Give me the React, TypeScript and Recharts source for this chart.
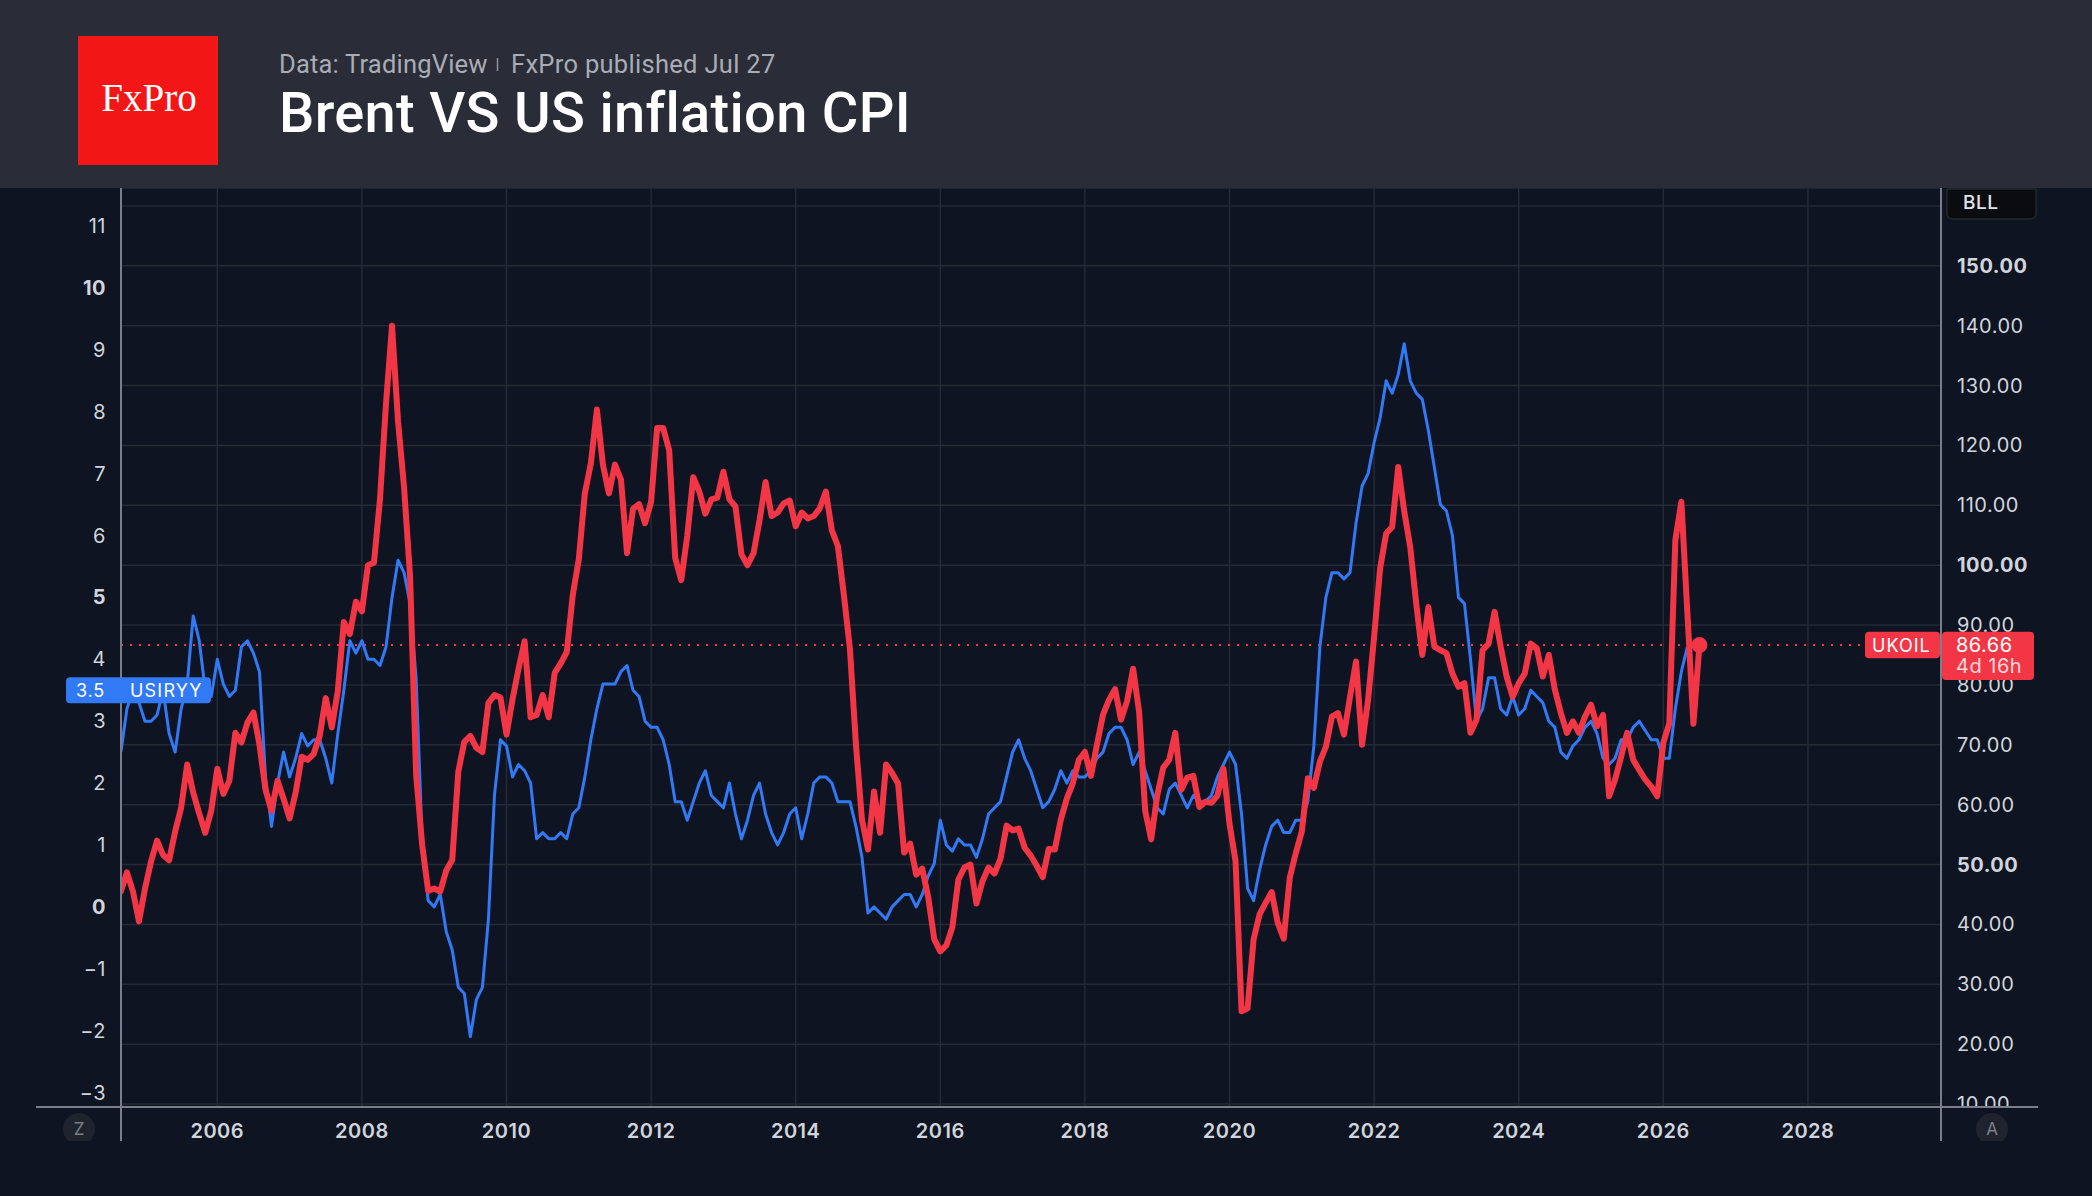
import { CartesianGrid, Line, LineChart, ReferenceLine, XAxis, YAxis } from 'recharts';

// monthly closes, first point is Sep 2004
const START_YEAR = 2004;
const START_MONTH = 8;

const ukoil = [
  45.5, 48.7, 45.5, 40.5,
  46, 50.5, 54, 51.6, 50.7, 55.5, 59.5, 66.7, 62, 58.5, 55.3, 59,
  66, 61.8, 64, 72, 70.4, 73.7, 75.4, 70, 62.5, 59, 64, 61,
  57.7, 62, 68, 67.5, 68.5, 71.5, 77.8, 72.9, 79, 90.5, 88.5, 93.9,
  92.3, 100, 100.4, 111, 127, 140, 124, 113, 98, 65, 53.3, 45.6,
  46, 45.5, 49, 50.8, 65.5, 70.5, 71.5, 69.5, 68.8, 77, 78.3, 77.9,
  71.7, 77.6, 82.7, 87.3, 74.6, 75, 78.3, 74.6, 82, 83.6, 85.5, 95,
  101, 112, 117, 126, 116.8, 112, 116.8, 114.3, 102, 109.4, 110.2, 107,
  110.6, 122.9, 122.9, 119.2, 101.2, 97.5, 104.9, 114.7, 112.3, 108.6, 111, 111.3,
  115.6, 111, 109.8, 101.8, 100, 102, 107.5, 113.9, 108.2, 108.8, 110.3, 110.8,
  106.5, 108.8, 107.8, 108.2, 109.5, 112.3, 105.8, 103.2, 95, 86, 70, 57.5,
  52.5, 62.2, 55.3, 66.7, 65.3, 63.5, 52, 53.5, 48.3, 49.3, 44.5, 37.5,
  35.5, 36.5, 39.5, 47.5, 49.5, 50, 43.5, 47.2, 49.5, 48.5, 51, 56.5,
  55.7, 56, 52.8, 51.5, 49.8, 47.9, 52.6, 52.5, 57.5, 61, 63.6, 67.5,
  68.8, 64.8, 70, 75, 77.5, 79.3, 74.2, 77.3, 82.7, 75.5, 59, 54.2,
  61.5, 66.2, 67.5, 72, 62.5, 64.5, 64.8, 59.6, 60.5, 60.3, 61.5, 66,
  56.8, 50.6, 25.5, 26, 37.5, 41.7, 43.6, 45.4, 40.3, 37.6, 47.8, 51.9,
  55.5, 64.4, 62.8, 67.2, 69.7, 74.7, 75.3, 71.7, 78, 83.9, 70, 77.5,
  88, 99.5, 105.3, 106.4, 116.4, 109, 103, 93.5, 85, 93, 86.4, 85.8,
  85.3, 81.9, 79.7, 80.3, 72, 74.2, 85.8, 86.9, 92.2, 86.4, 81.4, 78,
  80.3, 81.9, 86.9, 86.1, 81.4, 85, 79.2, 75.3, 72, 73.9, 72, 74.7,
  76.7, 73.1, 75, 61.4, 64.2, 68, 72, 67.5, 65.8, 64.2, 63, 61.4,
  70.3, 73.6, 104.2, 110.6, 92, 73.5, 86.66,
];

const usiryy = [
  2.5, 3.2, 3.5, 3.3,
  3.0, 3.0, 3.1, 3.5, 2.8, 2.5, 3.2, 3.6, 4.7, 4.3, 3.5, 3.4,
  4.0, 3.6, 3.4, 3.5, 4.2, 4.3, 4.1, 3.8, 2.1, 1.3, 2.0, 2.5,
  2.1, 2.4, 2.8, 2.6, 2.7, 2.7, 2.4, 2.0, 2.8, 3.5, 4.3, 4.1,
  4.3, 4.0, 4.0, 3.9, 4.2, 5.0, 5.6, 5.4, 4.9, 3.7, 1.1, 0.1,
  0.0, 0.2, -0.4, -0.7, -1.3, -1.4, -2.1, -1.5, -1.3, -0.2, 1.8, 2.7,
  2.6, 2.1, 2.3, 2.2, 2.0, 1.1, 1.2, 1.1, 1.1, 1.2, 1.1, 1.5,
  1.6, 2.1, 2.7, 3.2, 3.6, 3.6, 3.6, 3.8, 3.9, 3.5, 3.4, 3.0,
  2.9, 2.9, 2.7, 2.3, 1.7, 1.7, 1.4, 1.7, 2.0, 2.2, 1.8, 1.7,
  1.6, 2.0, 1.5, 1.1, 1.4, 1.8, 2.0, 1.5, 1.2, 1.0, 1.2, 1.5,
  1.6, 1.1, 1.5, 2.0, 2.1, 2.1, 2.0, 1.7, 1.7, 1.7, 1.3, 0.8,
  -0.1, 0.0, -0.1, -0.2, 0.0, 0.1, 0.2, 0.2, 0.0, 0.2, 0.5, 0.7,
  1.4, 1.0, 0.9, 1.1, 1.0, 1.0, 0.8, 1.1, 1.5, 1.6, 1.7, 2.1,
  2.5, 2.7, 2.4, 2.2, 1.9, 1.6, 1.7, 1.9, 2.2, 2.0, 2.2, 2.1,
  2.1, 2.2, 2.4, 2.5, 2.8, 2.9, 2.9, 2.7, 2.3, 2.5, 2.2, 1.9,
  1.6, 1.5, 1.9, 2.0, 1.8, 1.6, 1.8, 1.7, 1.7, 1.8, 2.1, 2.3,
  2.5, 2.3, 1.5, 0.3, 0.1, 0.6, 1.0, 1.3, 1.4, 1.2, 1.2, 1.4,
  1.4, 1.7, 2.6, 4.2, 5.0, 5.4, 5.4, 5.3, 5.4, 6.2, 6.8, 7.0,
  7.5, 7.9, 8.5, 8.3, 8.6, 9.1, 8.5, 8.3, 8.2, 7.7, 7.1, 6.5,
  6.4, 6.0, 5.0, 4.9, 4.0, 3.0, 3.2, 3.7, 3.7, 3.2, 3.1, 3.4,
  3.1, 3.2, 3.5, 3.4, 3.3, 3.0, 2.9, 2.5, 2.4, 2.6, 2.7, 2.9,
  3.0, 2.8, 2.4, 2.3, 2.4, 2.7, 2.7, 2.9, 3.0, 2.85, 2.7, 2.7,
  2.4, 2.4, 3.2, 3.8, 4.2,
];

const yearTicks = [2006, 2008, 2010, 2012, 2014, 2016, 2018, 2020, 2022, 2024, 2026, 2028];
const cpiTicks = [-3, -2, -1, 0, 1, 2, 3, 4, 5, 6, 7, 8, 9, 10, 11];
const oilTicks = [10, 20, 30, 40, 50, 60, 70, 80, 90, 100, 110, 120, 130, 140, 150, 160];
const boldCpi = [0, 5, 10];
const boldOil = [50, 100, 150];

const lastOil = 86.66;
const lastCpi = 3.5;
const countdown = '4d 16h';

const W = 2092;
const H = 1196;
const PLOT = { left: 121, right: 1941, top: 188, bottom: 1107 };
const X_DOMAIN = [2004.668, 2029.841];
const CPI_DOMAIN = [-3.234, 11.615];
const OIL_DOMAIN = [9.5, 163.0];

const BG = '#0e1421';
const RED = '#f23645';
const BLUE = '#3179f5';
const TEXT = '#d1d4dc';
const AXIS = '#7b7e88';

const data = ukoil.map((oil, i) => ({
  t: START_YEAR + (START_MONTH + i) / 12,
  oil,
  cpi: usiryy[i],
}));

const cpiY = (v: number) =>
  PLOT.top + ((CPI_DOMAIN[1] - v) / (CPI_DOMAIN[1] - CPI_DOMAIN[0])) * (PLOT.bottom - PLOT.top);
const oilY = (v: number) =>
  PLOT.top + ((OIL_DOMAIN[1] - v) / (OIL_DOMAIN[1] - OIL_DOMAIN[0])) * (PLOT.bottom - PLOT.top);

const fmtCpi = (v: number) => (v < 0 ? `\u2212${-v}` : String(v));

function LeftTick({ x, y, payload }: any) {
  const v = payload.value;
  return (
    <text x={x} y={y} dy={7} textAnchor="end" fill={TEXT} fontSize={20} fontFamily="Inter"
      fontWeight={boldCpi.includes(v) ? 700 : 400} letterSpacing={0.5}>
      {fmtCpi(v)}
    </text>
  );
}

function RightTick({ x, y, payload }: any) {
  const v = payload.value;
  if (v === 160) return <g />;
  return (
    <text x={x} y={y} dy={7} textAnchor="start" fill={TEXT} fontSize={20} fontFamily="Inter"
      fontWeight={boldOil.includes(v) ? 700 : 400} letterSpacing={0.5}>
      {v.toFixed(2)}
    </text>
  );
}

function YearTick({ x, y, payload }: any) {
  return (
    <text x={x} y={y} dy={16} textAnchor="middle" fill={TEXT} fontSize={20} fontFamily="Inter"
      fontWeight={600} letterSpacing={0.5}>
      {payload.value}
    </text>
  );
}

const lastIdx = data.length - 1;

function EndDot(p: any) {
  if (p.index !== lastIdx) return <g key={`d${p.index}`} />;
  return <circle key="end" cx={p.cx} cy={p.cy} r={8} fill={RED} />;
}

export default function App() {
  const oilTagY = oilY(lastOil);
  const cpiTagY = cpiY(lastCpi);
  return (
    <div style={{ position: 'absolute', left: 0, top: 0, width: W, height: H, background: BG, overflow: 'hidden' }}>
      <div style={{ position: 'absolute', left: 0, top: 0 }}>
        <LineChart width={W} height={H} data={data} margin={{ top: 188, left: 41, right: 51, bottom: 49 }}>
          <CartesianGrid yAxisId="right" stroke="#252a34" strokeWidth={1.5} />
          <XAxis
            type="number"
            dataKey="t"
            domain={X_DOMAIN}
            ticks={yearTicks}
            allowDataOverflow
            height={40}
            tickLine={false}
            axisLine={false}
            tickMargin={9}
            tick={<YearTick />}
          />
          <YAxis
            yAxisId="left"
            orientation="left"
            domain={CPI_DOMAIN}
            ticks={cpiTicks}
            allowDataOverflow
            width={80}
            tickLine={false}
            axisLine={false}
            tickMargin={9}
            tick={<LeftTick />}
          />
          <YAxis
            yAxisId="right"
            orientation="right"
            domain={OIL_DOMAIN}
            ticks={oilTicks}
            allowDataOverflow
            width={100}
            tickLine={false}
            axisLine={false}
            tickMargin={10}
            tick={<RightTick />}
          />
          <ReferenceLine yAxisId="right" y={lastOil} stroke={RED} strokeWidth={2} strokeDasharray="2 7" />
          <Line
            yAxisId="left"
            dataKey="cpi"
            stroke={BLUE}
            strokeWidth={3}
            strokeLinejoin="round"
            dot={false}
            isAnimationActive={false}
          />
          <Line
            yAxisId="right"
            dataKey="oil"
            stroke={RED}
            strokeWidth={6}
            strokeLinejoin="round"
            strokeLinecap="round"
            dot={EndDot}
            activeDot={false}
            isAnimationActive={false}
          />
        </LineChart>
      </div>

      <svg width={W} height={H} style={{ position: 'absolute', left: 0, top: 0, pointerEvents: 'none' }}>
        <defs>
          <clipPath id="pane">
            <rect x={0} y={1108} width={W} height={33} />
          </clipPath>
        </defs>

        {/* header */}
        <rect x={0} y={0} width={W} height={188} fill="#2a2d38" />
        <rect x={78} y={36} width={140} height={129} fill="#f31616" />
        <text x={149} y={111} textAnchor="middle" fill="#fff" fontSize={39} fontFamily="'Liberation Serif', serif">
          FxPro
        </text>
        <text x={279} y={73} fill="#a9acb5" fontSize={25.5} fontFamily="Roboto" letterSpacing={0.2}>
          Data: TradingView
        </text>
        <line x1={497.5} x2={497.5} y1={58} y2={71} stroke="#8d9099" strokeWidth={1.5} />
        <text x={511} y={73} fill="#a9acb5" fontSize={25.5} fontFamily="Roboto" letterSpacing={0.3}>
          FxPro published Jul 27
        </text>
        <text x={279} y={132} fill="#ffffff" fontSize={56} fontWeight={500} fontFamily="Roboto" letterSpacing={0.3}>
          Brent VS US inflation CPI
        </text>

        {/* cover the part of the lowest price label that runs into the time scale */}
        <rect x={PLOT.right + 2} y={1108} width={W - PLOT.right} height={40} fill={BG} />

        {/* scale borders */}
        <line x1={PLOT.left} x2={PLOT.left} y1={188} y2={1141} stroke={AXIS} strokeWidth={2} />
        <line x1={PLOT.right} x2={PLOT.right} y1={188} y2={1141} stroke={AXIS} strokeWidth={2} />
        <line x1={36} x2={2038} y1={PLOT.bottom} y2={PLOT.bottom} stroke={AXIS} strokeWidth={2} />

        {/* Z / A buttons */}
        <g clipPath="url(#pane)">
          <circle cx={79} cy={1129} r={16} fill="#1f232e" />
          <circle cx={1992} cy={1129} r={16} fill="#1f232e" />
        </g>
        <text x={79} y={1135} textAnchor="middle" fill="#7d8089" fontSize={17} fontFamily="Inter">Z</text>
        <text x={1992} y={1135} textAnchor="middle" fill="#7d8089" fontSize={17} fontFamily="Inter">A</text>

        {/* currency box */}
        <path d="M1947 189 H2036 V213 Q2036 219 2030 219 H1953 Q1947 219 1947 213 Z" fill="#0b0c10" stroke="#30333d" strokeWidth={1} />
        <text x={1963} y={209} fill="#e0e3eb" fontSize={19} fontFamily="Inter" fontWeight={500} letterSpacing={0.5}>BLL</text>

        {/* USIRYY last value */}
        <rect x={66} y={cpiTagY - 13} width={145} height={26} rx={4} fill={BLUE} />
        <text x={76} y={cpiTagY + 6.5} fill="#fff" fontSize={18} fontFamily="Inter" letterSpacing={0.8}>
          {lastCpi}
        </text>
        <text x={130} y={cpiTagY + 6.5} fill="#fff" fontSize={18} fontFamily="Inter" letterSpacing={1.2}>
          USIRYY
        </text>

        {/* UKOIL last value */}
        <rect x={1865} y={oilTagY - 13.3} width={75} height={26.6} rx={4} fill={RED} />
        <text x={1872} y={oilTagY + 6.5} fill="#fff" fontSize={18} fontFamily="Inter" letterSpacing={1}>
          UKOIL
        </text>
        <rect x={1942} y={oilTagY - 13.3} width={92} height={48.3} rx={4} fill={RED} />
        <text x={1956} y={oilTagY + 7} fill="#fff" fontSize={20} fontFamily="Inter" letterSpacing={0.5}>
          {lastOil.toFixed(2)}
        </text>
        <text x={1956} y={oilTagY + 28} fill="rgba(255,255,255,0.82)" fontSize={20} fontFamily="Inter" letterSpacing={0.5}>
          {countdown}
        </text>
      </svg>
    </div>
  );
}
